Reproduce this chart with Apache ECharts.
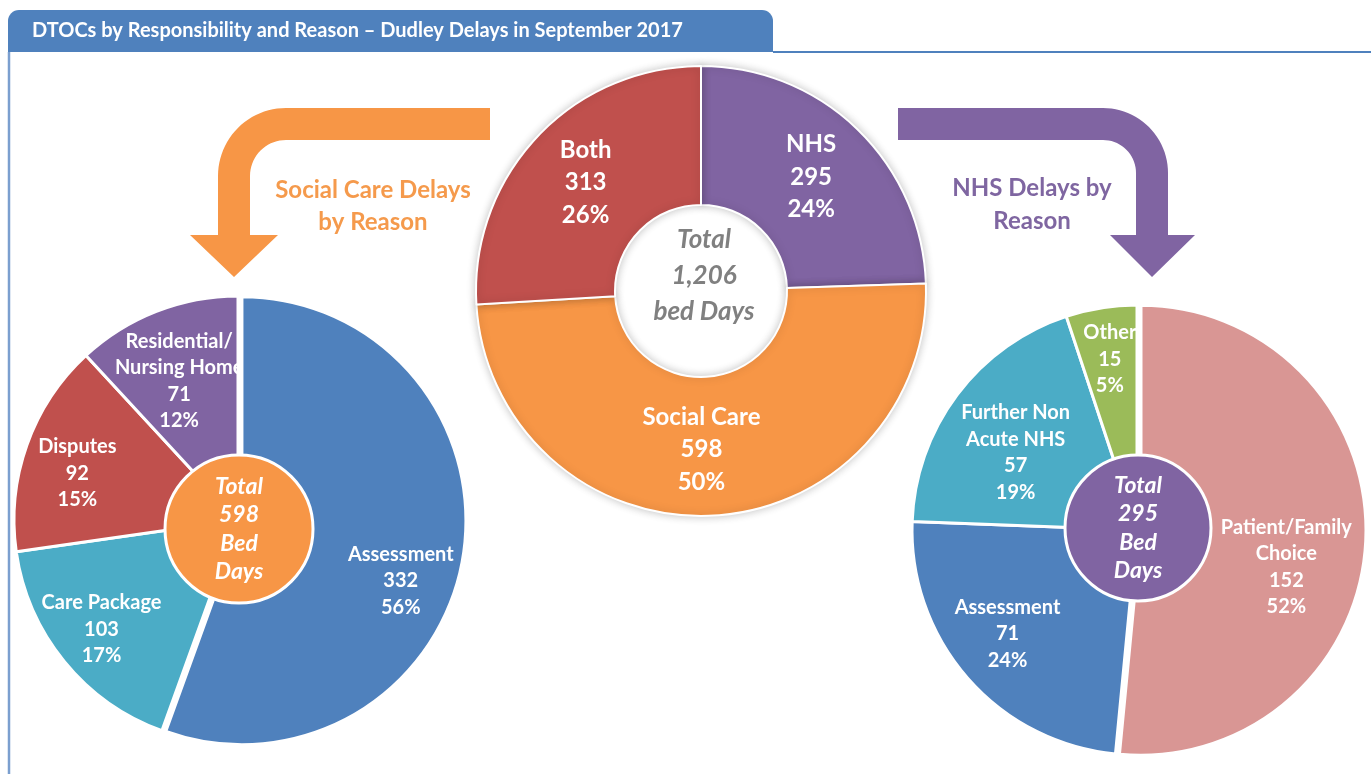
<!DOCTYPE html>
<html>
<head>
<meta charset="utf-8">
<script src="https://cdn.jsdelivr.net/npm/echarts@6/dist/echarts.min.js"></script>
<style>
html,body{margin:0;padding:0;background:#fff;}
#c{width:1371px;height:774px;}
</style>
</head>
<body>
<div id="c"></div>
<script>
// ---------------- DATA ----------------
const titleText = 'DTOCs by Responsibility and Reason \u2013 Dudley Delays in September 2017';

const respCategories = ['NHS', 'Social Care', 'Both'];
const respValues = [295, 598, 313];

const socialCategories = ['Assessment', 'Care Package', 'Disputes', 'Residential/\nNursing Home'];
const socialValues = [332, 103, 92, 71];

const nhsCategories = ['Patient/Family\nChoice', 'Assessment', 'Further Non\nAcute NHS', 'Other'];
const nhsValues = [152, 71, 57, 15];

const socialArrowLabel = 'Social Care Delays\nby Reason';
const nhsArrowLabel = 'NHS Delays by\nReason';

// ---------------- STYLE ----------------
const FONT = 'Lato, "Open Sans", sans-serif';
const C = {
  blue: '#4F81BD', red: '#C0504D', green: '#9BBB59', purple: '#8064A2',
  teal: '#4BACC6', orange: '#F79646', pink: '#D99694'
};
const respColors = [C.purple, C.orange, C.red];
const socialColors = [C.blue, C.teal, C.red, C.purple];
const nhsColors = [C.pink, C.blue, C.teal, C.green];

// label nudges (pixels) per slice, styling only
const respNudge = [[0, 0], [-7, 0], [0, 0]];
const socialNudge = [[16, 35], [-24, 18], [-24, 2], [-6, -4]];
const nhsNudge = [[0, 30], [-20, 8], [-5, 10], [-4, -27]];

const sum = a => a.reduce((s, v) => s + v, 0);
const fmt = v => v.toLocaleString('en-US');

function mk(names, values, colors) {
  return names.map((n, i) => ({ name: n, value: values[i], itemStyle: { color: colors[i] } }));
}

// arc helper for decorative arrows
function arc(cx, cy, r, a0, a1, n) {
  const pts = [];
  for (let i = 0; i <= n; i++) {
    const a = (a0 + (a1 - a0) * i / n) * Math.PI / 180;
    pts.push([cx + r * Math.cos(a), cy + r * Math.sin(a)]);
  }
  return pts;
}
const orangeArrow = [[490, 108]]
  .concat(arc(286, 176, 68, -90, -180, 24))
  .concat([[218, 235], [190, 235], [234, 277], [278, 235], [250, 235]])
  .concat(arc(286, 176, 36, -180, -90, 18))
  .concat([[490, 140]]);
const purpleArrow = [[898, 108]]
  .concat(arc(1103, 173, 65, -90, 0, 24))
  .concat([[1168, 235], [1195, 235], [1152, 277], [1110, 235], [1136, 235]])
  .concat(arc(1103, 173, 33, 0, -90, 18))
  .concat([[898, 140]]);

const socialData = mk(socialCategories, socialValues, socialColors);
socialData[0].selected = true;
const nhsData = mk(nhsCategories, nhsValues, nhsColors);
nhsData[0].selected = true;

const chart = echarts.init(document.getElementById('c'), null, { renderer: 'canvas' });

const sideLabel = {
  show: true, position: 'inside', color: '#fff', fontFamily: FONT,
  fontWeight: 'bold', fontSize: 20, lineHeight: 26.5,
  formatter: '{b}\n{c}\n{d}%'
};
const centerLabel = {
  show: true, position: 'center', color: '#fff', fontFamily: FONT, fontWeight: 'bold',
  fontStyle: 'italic', fontSize: 23, lineHeight: 28.5,
  formatter: p => 'Total\n' + fmt(p.value) + '\nBed\nDays'
};

const option = {
  animation: false,
  backgroundColor: '#fff',
  graphic: [
    { type: 'rect', shape: { x: 8, y: 10, width: 765, height: 42, r: [11, 11, 0, 0] },
      style: { fill: C.blue }, z: 1 },
    { type: 'text', x: 32, y: 31,
      style: { text: titleText, fill: '#fff', font: 'bold 20px ' + FONT, textVerticalAlign: 'middle' }, z: 2 },
    { type: 'polyline', shape: { points: [[773, 52], [1371, 52]] },
      style: { stroke: C.blue, lineWidth: 2 }, z: 1 },
    { type: 'polyline', shape: { points: [[9, 52], [9, 774]] },
      style: { stroke: '#7B9FCF', lineWidth: 2.5 }, z: 1 },
    { type: 'polygon', z: 1, shape: { points: orangeArrow }, style: { fill: C.orange } },
    { type: 'polygon', z: 1, shape: { points: purpleArrow }, style: { fill: C.purple } },
    { type: 'text', x: 373, y: 206, z: 2,
      style: { text: socialArrowLabel, fill: '#F59A4C', font: 'bold 24px ' + FONT,
        textAlign: 'center', textVerticalAlign: 'middle', lineHeight: 32 } },
    { type: 'text', x: 1032, y: 205, z: 2,
      style: { text: nhsArrowLabel, fill: '#7F66A1', font: 'bold 24px ' + FONT,
        textAlign: 'center', textVerticalAlign: 'middle', lineHeight: 33 } },
    { type: 'text', x: 704, y: 276, z: 10,
      style: { text: 'Total\n' + fmt(sum(respValues)) + '\nbed Days', fill: '#808080',
        font: 'italic bold 26px ' + FONT, textAlign: 'center', textVerticalAlign: 'middle', lineHeight: 36 } }
  ],
  series: [
    {
      type: 'pie', name: 'Responsibility', center: [701, 291], radius: [86, 225],
      startAngle: 90, clockwise: true, avoidLabelOverlap: false, percentPrecision: 0,
      silent: true,
      itemStyle: { borderColor: '#fff', borderWidth: 2, shadowBlur: 8, shadowColor: 'rgba(0,0,0,0.22)' },
      label: { show: true, position: 'inside', color: '#fff', fontFamily: FONT, fontWeight: 'bold',
        fontSize: 24, lineHeight: 32.5, formatter: '{b}\n{c}\n{d}%' },
      labelLine: { show: false },
      labelLayout: p => ({ dx: respNudge[p.dataIndex][0], dy: respNudge[p.dataIndex][1] }),
      data: mk(respCategories, respValues, respColors)
    },
    {
      type: 'pie', name: 'Social Care', center: [238, 520], radius: [60, 224],
      startAngle: 90, clockwise: true, avoidLabelOverlap: false, percentPrecision: 0,
      selectedMode: 'multiple', selectedOffset: 4, silent: true,
      itemStyle: { borderColor: '#fff', borderWidth: 3 },
      select: { itemStyle: { borderColor: '#fff', borderWidth: 3 } },
      label: sideLabel, labelLine: { show: false },
      labelLayout: p => ({ dx: socialNudge[p.dataIndex][0], dy: socialNudge[p.dataIndex][1] }),
      data: socialData, z: 2
    },
    {
      type: 'pie', name: 'Social Total', center: [239, 529], radius: [0, 74], silent: true,
      itemStyle: { color: C.orange, borderColor: '#fff', borderWidth: 3 },
      label: centerLabel, labelLine: { show: false },
      data: [{ name: 'Total', value: sum(socialValues) }], z: 3
    },
    {
      type: 'pie', name: 'NHS', center: [1137, 530], radius: [60, 225],
      startAngle: 90, clockwise: true, avoidLabelOverlap: false, percentPrecision: 0,
      selectedMode: 'multiple', selectedOffset: 4, silent: true,
      itemStyle: { borderColor: '#fff', borderWidth: 3 },
      select: { itemStyle: { borderColor: '#fff', borderWidth: 3 } },
      label: sideLabel, labelLine: { show: false },
      labelLayout: p => ({ dx: nhsNudge[p.dataIndex][0], dy: nhsNudge[p.dataIndex][1] }),
      data: nhsData, z: 2
    },
    {
      type: 'pie', name: 'NHS Total', center: [1138, 528], radius: [0, 73], silent: true,
      itemStyle: { color: C.purple, borderColor: '#fff', borderWidth: 3 },
      label: centerLabel, labelLine: { show: false },
      data: [{ name: 'Total', value: sum(nhsValues) }], z: 3
    }
  ]
};
chart.setOption(option);
</script>
</body>
</html>
